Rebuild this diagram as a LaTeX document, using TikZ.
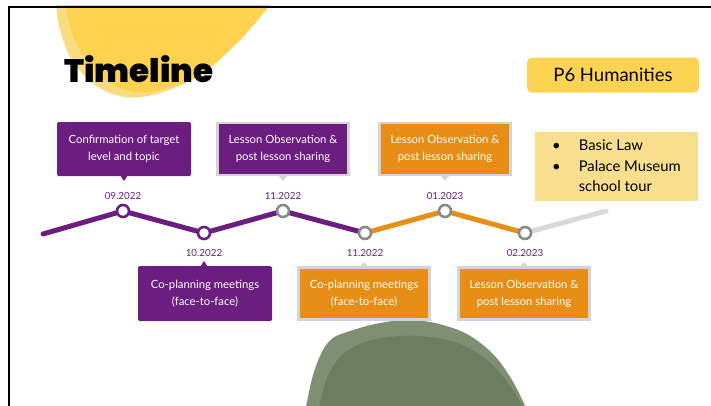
\documentclass[tikz,border=0pt]{standalone}
\usepackage{fontspec}
\setmainfont{Lato}
\IfFontExistsTF{Poppins Black}{\newfontfamily\titlefont{Poppins Black}}{\newfontfamily\titlefont{Poppins}[UprightFont=*,BoldFont=*]}
\definecolor{tlpurple}{HTML}{6B1E80}
\definecolor{tlorange}{HTML}{E68E16}
\definecolor{tlgray}{HTML}{D9D9D9}
\definecolor{tlring}{HTML}{8A8A8A}
\definecolor{tlborder}{HTML}{D4D4D4}
\definecolor{blobyel}{HTML}{FCD24F}
\definecolor{blobyellight}{HTML}{F9DC82}
\definecolor{hboxyel}{HTML}{FDD452}
\definecolor{listyel}{HTML}{F8DF8D}
\definecolor{greenlight}{HTML}{7E8F72}
\definecolor{greendark}{HTML}{6C7E60}
\tikzset{
  callout/.style={rectangle, rounded corners=1.5pt, minimum width=134pt, minimum height=54pt,
    text=white, align=center, inner sep=0pt, font=\fontsize{11.3}{17}\selectfont},
  bordered/.style={draw=tlborder, line width=2.5pt, minimum width=131pt, minimum height=52pt, rounded corners=0pt},
  dot/.style={circle, fill=white, line width=2.6pt, minimum size=12pt, inner sep=0pt},
  datelbl/.style={text=tlpurple, font=\fontsize{9.8}{11}\selectfont, inner sep=0pt},
  seg/.style={line width=5pt, line cap=round},
}
\begin{document}
\begin{tikzpicture}[x=1pt,y=-1pt]
\useasboundingbox (0,0) rectangle (711,405);
\begin{scope}
\clip (0,0) rectangle (711,405);
% yellow blob
\fill[blobyellight] plot[smooth, tension=0.6] coordinates {(56,5) (60,30) (72,60) (95,85) (125,97) (160,93) (200,75) (238,42) (270,5)} -- cycle;
\fill[blobyel] plot[smooth, tension=0.6] coordinates {(66,5) (71,30) (85,58) (108,82) (135,92) (165,89) (202,73) (238,42) (270,5)} -- cycle;
% green blob
\fill[greenlight] plot[smooth, tension=0.55] coordinates {(305,412) (313,375) (323,350) (333,338) (347,332) (375,324) (405,320) (435,323) (467,334) (493,354) (512,380) (528,412)} -- cycle;
\fill[greendark] plot[smooth, tension=0.55] coordinates {(318,412) (327,378) (343,354) (368,341) (400,336) (430,337) (460,344) (487,360) (508,383) (526,412)} -- cycle;
\end{scope}
% frame
\draw[line width=2pt] (9,410) -- (9,7) -- (715,7);
% title
\node[anchor=base west, inner sep=0pt, font=\titlefont\fontsize{32.5}{32}\selectfont] (title) at (64,82) {Timeline};
% P6 Humanities
\node[fill=hboxyel, rounded corners=5pt, minimum width=172pt, minimum height=35pt, inner sep=0pt,
  font=\fontsize{18.5}{20}\selectfont] (subj) at (613,75) {P6\ Humanities};
% list box
\node[fill=listyel, minimum width=163pt, minimum height=69pt, inner sep=0pt] (listbox) at (616,166) {};
\node[anchor=west, inner sep=0pt, align=left, font=\fontsize{14.8}{20.5}\selectfont] (list) at (552,167)
 {\begin{tabular}{@{}l@{\hspace{18pt}}l@{}}\textbullet & Basic Law\\ \textbullet & Palace Museum\\ & school tour\end{tabular}};
% timeline coordinates
\coordinate (s) at (43,234);
\coordinate (c1) at (123,211);
\coordinate (c2) at (204,233);
\coordinate (c3) at (283,211);
\coordinate (c4) at (365,233);
\coordinate (c5) at (445,211);
\coordinate (c6) at (525,233);
\coordinate (e) at (606,211);
\draw[seg, tlpurple] (s) -- (c1) -- (c2) -- (c3) -- (c4);
\draw[seg, tlorange, line cap=butt] (c4) -- (c5) -- (c6);
\draw[seg, tlgray] (c6) -- (e);
\node[dot, draw=tlpurple] (d1) at (c1) {};
\node[dot, draw=tlpurple] (d2) at (c2) {};
\node[dot, draw=tlring] (d3) at (c3) {};
\node[dot, draw=tlring] (d4) at (c4) {};
\node[dot, draw=tlring] (d5) at (c5) {};
\node[dot, draw=tlring] (d6) at (c6) {};
% dates
\node[datelbl] (l1) at (123,196) {09.2022};
\node[datelbl] (l2) at (204,253) {10.2022};
\node[datelbl] (l3) at (283,196) {11.2022};
\node[datelbl] (l4) at (365,253) {11.2022};
\node[datelbl] (l5) at (445,196) {01.2023};
\node[datelbl] (l6) at (525,253) {02.2023};
% callouts: pointers
\fill[tlpurple] (120,175) -- (128,175) -- (124,181) -- cycle;
\fill[tlborder] (279,176) -- (287,176) -- (283,181) -- cycle;
\fill[tlborder] (441,176) -- (449,176) -- (445,181) -- cycle;
\fill[tlpurple] (200,267) -- (208,267) -- (204,261) -- cycle;
\fill[tlborder] (360,267) -- (368,267) -- (364,262) -- cycle;
\fill[tlborder] (520,267) -- (528,267) -- (524,262) -- cycle;
% callout boxes
\node[callout, fill=tlpurple] (b1) at (124,149) {Confirmation of target\\level and topic};
\node[callout, bordered, fill=tlpurple] (b2) at (283,149) {Lesson Observation \&\\post lesson sharing};
\node[callout, bordered, fill=tlorange] (b3) at (445,149) {Lesson Observation \&\\post lesson sharing};
\node[callout, fill=tlpurple, minimum height=55pt] (b4) at (205,293.5) {Co-planning meetings\\(face-to-face)};
\node[callout, bordered, fill=tlorange] (b5) at (364,293.5) {Co-planning meetings\\(face-to-face)};
\node[callout, bordered, fill=tlorange] (b6) at (524,293.5) {Lesson Observation \&\\post lesson sharing};
\end{tikzpicture}
\end{document}
